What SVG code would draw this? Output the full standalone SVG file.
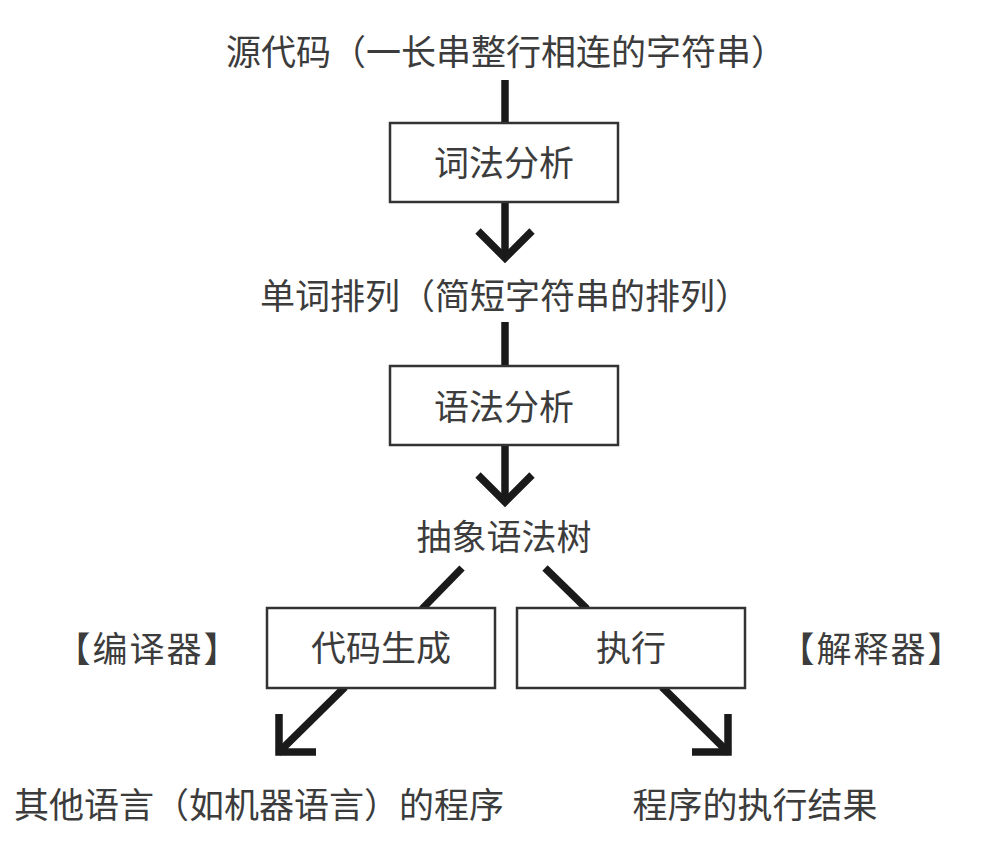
<svg xmlns="http://www.w3.org/2000/svg" width="1000" height="848" viewBox="0 0 1000 848">
<style>
text{font-family:"Noto Sans CJK SC","Noto Sans",sans-serif;font-size:35px;fill:#3c3c3c;text-anchor:middle}
.box{fill:#fff;stroke:#333;stroke-width:2.5}
.ln{fill:none;stroke:#1a1a1a;stroke-width:7.5;stroke-linecap:butt;stroke-linejoin:miter}
</style>
<rect width="1000" height="848" fill="#fff"/>
<g id="connectors">
<path class="ln" d="M505 80 V124"/>
<path class="ln" d="M505 201 V255"/>
<path class="ln" d="M478 231 L505 258 L532 231"/>
<path class="ln" d="M505 322 V366"/>
<path class="ln" d="M505 444 V499"/>
<path class="ln" d="M478 475 L505 502 L532 475"/>
<path class="ln" d="M462 568 L422 609"/>
<path class="ln" d="M345 687 L278 753"/>
<path class="ln" d="M279 714 L279 752 L316 752"/>
<path class="ln" d="M545 568 L587 609"/>
<path class="ln" d="M662 687 L729 753"/>
<path class="ln" d="M728 714 L728 752 L692 752"/>
</g>
<g id="source"><text x="506" y="65">源代码（一长串整行相连的字符串）</text></g>
<g id="lexer"><rect class="box" x="390" y="123" width="228" height="79"/><text x="504" y="176">词法分析</text></g>
<g id="tokens"><text x="505" y="309">单词排列（简短字符串的排列）</text></g>
<g id="parser"><rect class="box" x="390" y="366" width="228" height="79"/><text x="504" y="420">语法分析</text></g>
<g id="ast"><text x="504" y="550">抽象语法树</text></g>
<g id="codegen"><rect class="box" x="267" y="608" width="228" height="80"/><text x="381" y="661">代码生成</text></g>
<g id="exec"><rect class="box" x="517" y="608" width="228" height="80"/><text x="631" y="661">执行</text></g>
<g id="compiler"><text x="148" y="662" letter-spacing="2">【编译器】</text></g>
<g id="interpreter"><text x="872" y="662" letter-spacing="2">【解释器】</text></g>
<g id="program"><text x="259" y="818">其他语言（如机器语言）的程序</text></g>
<g id="result"><text x="755" y="818">程序的执行结果</text></g>
</svg>
